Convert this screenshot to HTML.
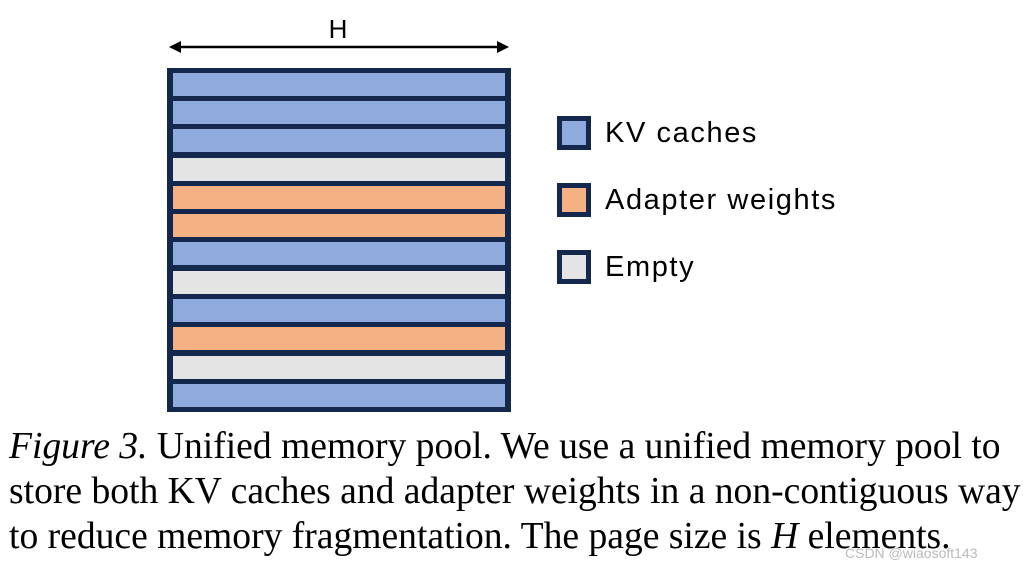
<!DOCTYPE html>
<html><head><meta charset="utf-8"><style>
body{margin:0;width:1023px;height:571px;background:#fff;position:relative;overflow:hidden}
.row{position:absolute;left:173px;width:332px;height:23px}
.B{background:#8faadc}.O{background:#f4b183}.E{background:#e4e4e4}
.sq{position:absolute;left:557px;width:24px;height:24px;border:5px solid #14284e}
.lt{position:absolute;left:605px;font:29px "Liberation Sans",sans-serif;color:#000;white-space:nowrap;letter-spacing:1.6px}
.cap{position:absolute;left:9px;font:37.6px "Liberation Serif",serif;color:#000;white-space:nowrap}
</style></head><body>
<svg style="position:absolute;left:0;top:0" width="1023" height="571">
<line x1="176" y1="47" x2="502" y2="47" stroke="#000" stroke-width="2.5"/>
<polygon points="169,47 181,41 181,53" fill="#000"/>
<polygon points="509,47 497,41 497,53" fill="#000"/>
<text x="338" y="38" font-family="Liberation Sans" font-size="26" text-anchor="middle">H</text>
<rect x="167" y="68" width="344" height="344" fill="#14284e"/>
</svg>
<div class="row B" style="top:73px"></div>
<div class="row B" style="top:101px"></div>
<div class="row B" style="top:129px"></div>
<div class="row E" style="top:158px"></div>
<div class="row O" style="top:186px"></div>
<div class="row O" style="top:214px"></div>
<div class="row B" style="top:242px"></div>
<div class="row E" style="top:271px"></div>
<div class="row B" style="top:299px"></div>
<div class="row O" style="top:327px"></div>
<div class="row E" style="top:356px"></div>
<div class="row B" style="top:384px"></div>
<div class="sq B" style="top:116px"></div>
<div class="sq O" style="top:183px"></div>
<div class="sq E" style="top:250px"></div>
<div class="lt" style="top:117px">KV caches</div>
<div class="lt" style="top:184px">Adapter weights</div>
<div class="lt" style="top:251px">Empty</div>
<div class="cap" style="top:425px"><i>Figure 3.</i> Unified memory pool. We use a unified memory pool to</div>
<div class="cap" style="top:470px">store both KV caches and adapter weights in a non-contiguous way</div>
<div class="cap" style="top:515px">to reduce memory fragmentation. The page size is <i>H</i> elements.</div>
<div style="position:absolute;left:845px;top:545px;font:14px 'Liberation Sans',sans-serif;color:#bbb">CSDN @wiaosoft143</div>
</body></html>
